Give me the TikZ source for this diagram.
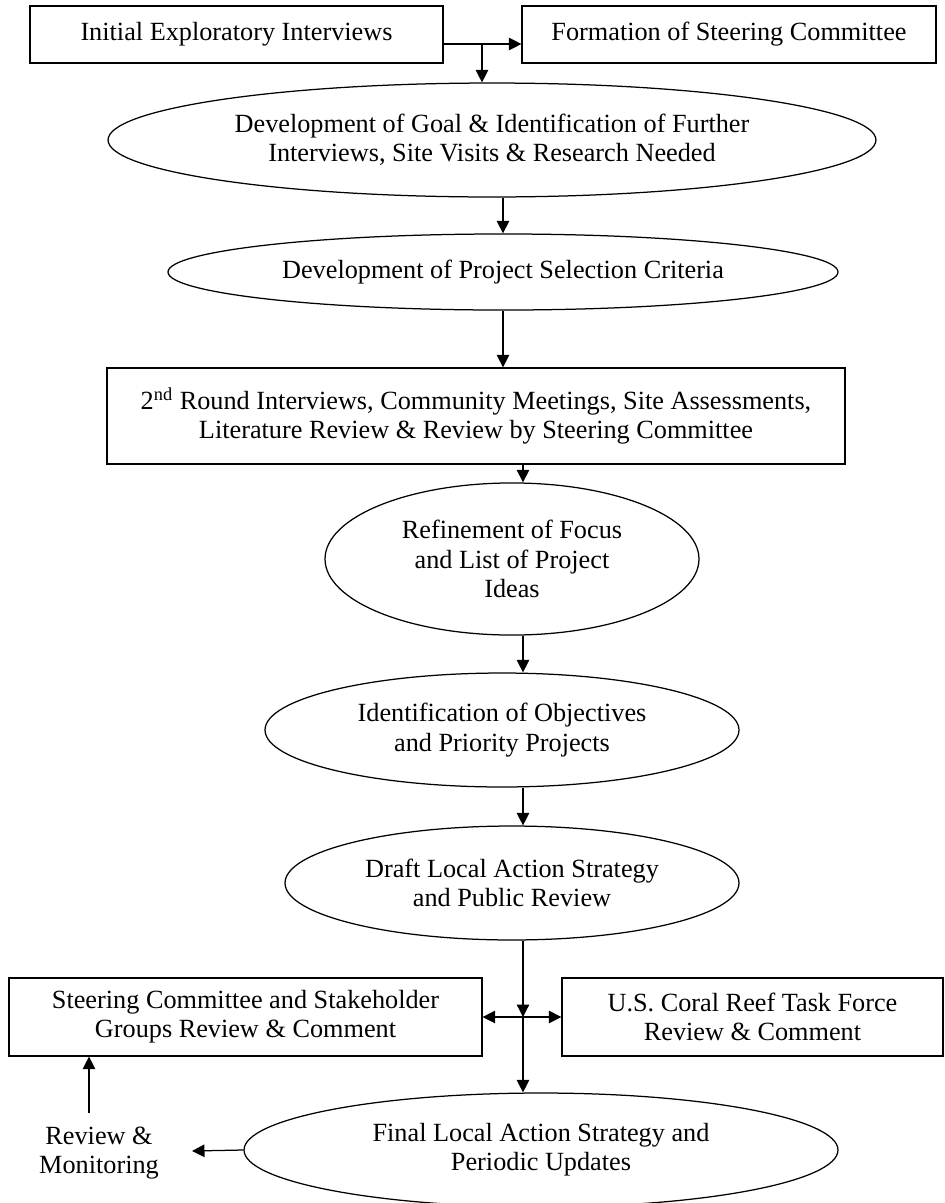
\documentclass[tikz,border=0pt]{standalone}
\usepackage{fontspec}
\setmainfont{Liberation Serif}
\usetikzlibrary{shapes.geometric,arrows.meta}

\begin{document}
\begin{tikzpicture}[
      x=0.48pt, y=-0.48pt,
      every node/.style={inner sep=0pt,align=center,font=\fontsize{12.6}{14}\selectfont},
      stepbox/.style={draw,rectangle},
      phase/.style={draw,ellipse},
      semithick,
      >={Triangle[length=6pt,width=6pt]}
    ]
      \useasboundingbox (0,0) rectangle (945,1203);

      % top row
      \node[stepbox,minimum width=198.2pt,minimum height=27.4pt] (interviews) at (236.5,34.5) {Initial Exploratory Interviews};
      \node[stepbox,minimum width=198.7pt,minimum height=27.4pt] (committee) at (729,34.5) {Formation of Steering Committee};

      % main column
      \node[phase,minimum width=368.6pt,minimum height=54.7pt] (goal) at (492,140)
        {Development of Goal \& Identification of Further\\Interviews, Site Visits \& Research Needed};
      \node[phase,minimum width=321.6pt,minimum height=36.5pt] (criteria) at (503,272)
        {Development of Project Selection Criteria};
      \node[stepbox,minimum width=354.2pt,minimum height=46.1pt] (second) at (476,416)
        {2\textsuperscript{nd} Round Interviews, Community Meetings, Site Assessments,\\Literature Review \& Review by Steering Committee};
      \node[phase,minimum width=179.5pt,minimum height=73pt] (focus) at (512,559)
        {Refinement of Focus\\and List of Project\\Ideas};
      \node[phase,minimum width=227.5pt,minimum height=54.7pt] (objectives) at (502,730)
        {Identification of Objectives\\and Priority Projects};
      \node[phase,minimum width=217.9pt,minimum height=54.7pt] (draft) at (512,883)
        {Draft Local Action Strategy\\and Public Review};

      % review row
      \node[stepbox,minimum width=227pt,minimum height=37.4pt] (stakeholders) at (245.5,1017)
        {Steering Committee and Stakeholder\\Groups Review \& Comment};
      \node[stepbox,minimum width=182.9pt,minimum height=37.4pt] (taskforce) at (752.5,1017)
        {U.S. Coral Reef Task Force\\Review \& Comment};
      \node[phase,minimum width=285.1pt,minimum height=54.7pt] (final) at (541,1150)
        {Final Local Action Strategy and\\Periodic Updates};
      \node (monitoring) at (99,1153) {Review \&\\Monitoring};

      \coordinate (j1) at (482,44);
      \coordinate (spine) at (523,0);
      \coordinate (j2) at (523,1017);
      \coordinate (rmin) at (192,1151);
      \coordinate (rmup) at (89,1113);

      \draw[->] (interviews.east |- j1) -- (committee.west |- j1);
      \draw[->] (j1) -- (j1 |- goal.north);
      \draw[->] (criteria.north |- goal.south) -- (criteria.north);
      \draw[->] (criteria.south) -- (criteria.south |- second.north);
      \draw[->] (spine |- second.south) -- (spine |- focus.north);
      \draw[->] (spine |- focus.south) -- (spine |- objectives.north);
      \draw[->] (spine |- objectives.south) -- (spine |- draft.north);
      \draw[->] (spine |- draft.south) -- (j2);
      \draw[->] (j2) -- (spine |- final.north);
      \draw[<->] (stakeholders.east) -- (taskforce.west);
      \draw[->] (final.west) -- (rmin);
      \draw[->] (rmup) -- (rmup |- stakeholders.south);
    \end{tikzpicture}
\end{document}
